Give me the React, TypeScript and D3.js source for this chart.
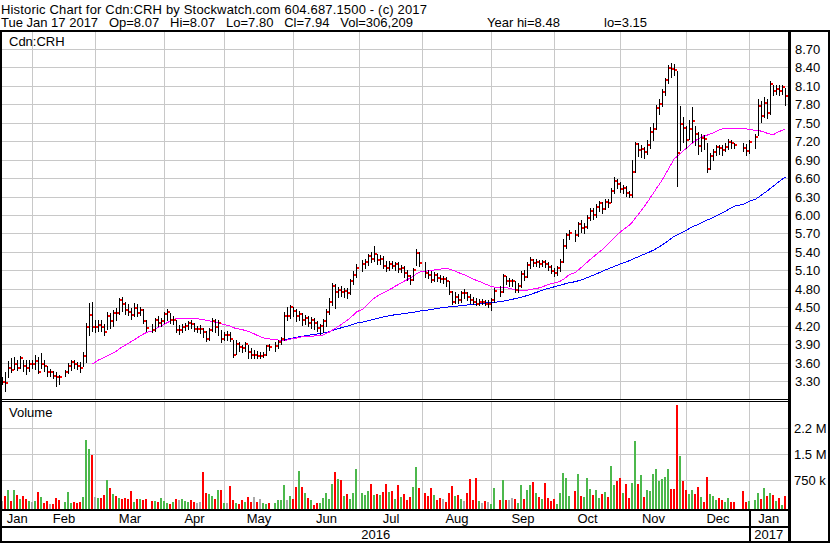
import React, { useMemo } from "react";
import * as d3 from "d3";

// ---------- DATA ----------
const START_DATE = "2016-01-18";
const END_DATE = "2017-01-17";
const HOLIDAYS = [
  "2016-02-15", "2016-03-25", "2016-05-23", "2016-07-01", "2016-08-01",
  "2016-09-05", "2016-10-10", "2016-12-26", "2016-12-27", "2017-01-02",
];

// closes per trading day (grouped by month)
const closeJan16 = [3.30, 3.28, 3.53, 3.49, 3.59, 3.52, 3.68, 3.56, 3.52, 3.59];
const closeFeb = [3.59, 3.64, 3.46, 3.59, 3.56, 3.46, 3.46, 3.39, 3.38, 3.37, 3.45, 3.56, 3.62, 3.59, 3.56, 3.52, 3.71, 4.19, 4.38, 4.19];
const closeMar = [4.19, 4.22, 4.19, 4.10, 4.36, 4.28, 4.42, 4.41, 4.62, 4.57, 4.47, 4.44, 4.38, 4.49, 4.42, 4.47, 4.29, 4.17, 4.14, 4.30, 4.26, 4.28];
const closeApr = [4.40, 4.44, 4.30, 4.31, 4.14, 4.14, 4.19, 4.20, 4.25, 4.24, 4.15, 4.15, 4.15, 4.10, 3.99, 4.14, 4.28, 4.19, 4.25, 3.99, 4.06];
const closeMay = [4.06, 4.00, 3.73, 3.92, 3.87, 3.84, 3.91, 3.78, 3.73, 3.73, 3.72, 3.72, 3.73, 3.88, 3.87, 3.88, 3.95, 4.00, 4.37, 4.37, 4.51];
const closeJun = [4.45, 4.37, 4.40, 4.30, 4.33, 4.25, 4.31, 4.25, 4.17, 4.20, 4.29, 4.44, 4.60, 4.86, 4.75, 4.79, 4.75, 4.78, 4.74, 4.93, 5.04, 5.15];
const closeJul = [5.21, 5.25, 5.34, 5.29, 5.37, 5.28, 5.30, 5.18, 5.14, 5.22, 5.18, 5.21, 5.13, 5.15, 5.06, 5.01, 4.96, 5.12, 5.39, 5.23];
const closeAug = [5.07, 5.03, 4.95, 5.03, 4.99, 4.97, 4.97, 4.94, 4.76, 4.60, 4.68, 4.63, 4.74, 4.74, 4.68, 4.62, 4.60, 4.56, 4.60, 4.60, 4.57, 4.57];
const closeSep = [4.62, 4.78, 4.75, 5.01, 4.93, 4.93, 4.93, 4.79, 4.86, 5.05, 5.00, 5.20, 5.27, 5.23, 5.24, 5.21, 5.24, 5.21, 5.17, 5.10, 5.06];
const closeOct = [5.14, 5.24, 5.51, 5.69, 5.71, 5.69, 5.86, 5.80, 5.82, 5.96, 6.07, 6.01, 6.14, 6.20, 6.10, 6.22, 6.21, 6.40, 6.56, 6.51];
const closeNov = [6.43, 6.45, 6.36, 6.33, 6.71, 7.16, 7.06, 7.08, 7.03, 7.15, 7.35, 7.41, 7.75, 7.81, 8.00, 8.20, 8.40, 8.38, 8.37, 7.01, 7.49, 7.42];
const closeDec = [7.23, 7.40, 7.53, 7.32, 7.13, 7.26, 7.25, 6.75, 6.97, 7.03, 7.12, 7.10, 7.06, 7.12, 7.19, 7.17, 7.15, 7.10, 7.04, 7.19];
const closeJan17 = [7.27, 7.78, 7.62, 7.83, 7.67, 8.14, 8.03, 8.06, 8.03, 8.09, 7.94];

const highJan16 = [3.38, 3.46, 3.63, 3.68, 3.70, 3.66, 3.72, 3.66, 3.66, 3.65];
const highFeb = [3.66, 3.73, 3.70, 3.76, 3.66, 3.55, 3.50, 3.47, 3.45, 3.41, 3.49, 3.60, 3.65, 3.66, 3.62, 3.62, 3.78, 4.25, 4.58, 4.60];
const highMar = [4.30, 4.30, 4.30, 4.24, 4.44, 4.42, 4.46, 4.50, 4.66, 4.68, 4.60, 4.56, 4.50, 4.58, 4.56, 4.52, 4.48, 4.30, 4.24, 4.33, 4.36, 4.33];
const highApr = [4.44, 4.48, 4.42, 4.36, 4.30, 4.22, 4.24, 4.25, 4.29, 4.30, 4.26, 4.20, 4.22, 4.18, 4.12, 4.18, 4.33, 4.32, 4.30, 4.14, 4.10];
const highMay = [4.12, 4.10, 3.98, 3.97, 3.95, 3.90, 3.94, 3.90, 3.84, 3.82, 3.80, 3.79, 3.78, 3.90, 3.92, 3.94, 3.98, 4.03, 4.44, 4.52, 4.54];
const highJun = [4.52, 4.48, 4.45, 4.42, 4.38, 4.36, 4.35, 4.33, 4.28, 4.24, 4.32, 4.48, 4.66, 4.90, 4.88, 4.84, 4.86, 4.82, 4.82, 4.97, 5.10, 5.22];
const highJul = [5.28, 5.30, 5.38, 5.40, 5.50, 5.38, 5.36, 5.34, 5.26, 5.26, 5.26, 5.24, 5.24, 5.20, 5.18, 5.12, 5.04, 5.14, 5.46, 5.40];
const highAug = [5.24, 5.12, 5.10, 5.08, 5.06, 5.04, 5.02, 5.00, 4.94, 4.78, 4.76, 4.72, 4.78, 4.80, 4.76, 4.72, 4.68, 4.66, 4.64, 4.64, 4.63, 4.62];
const highSep = [4.66, 4.82, 4.86, 5.05, 5.02, 4.98, 4.97, 4.94, 4.90, 5.10, 5.12, 5.24, 5.32, 5.30, 5.30, 5.28, 5.28, 5.27, 5.24, 5.20, 5.14];
const highOct = [5.18, 5.30, 5.62, 5.72, 5.76, 5.76, 5.90, 5.92, 5.88, 6.00, 6.12, 6.12, 6.18, 6.24, 6.22, 6.26, 6.26, 6.44, 6.62, 6.60];
const highNov = [6.55, 6.50, 6.48, 6.40, 6.90, 7.20, 7.18, 7.14, 7.12, 7.22, 7.44, 7.50, 7.80, 7.90, 8.06, 8.24, 8.44, 8.48, 8.46, 8.34, 7.78, 7.60];
const highDec = [7.45, 7.55, 7.76, 7.45, 7.35, 7.32, 7.30, 7.18, 7.02, 7.08, 7.15, 7.14, 7.14, 7.18, 7.24, 7.22, 7.18, 7.18, 7.16, 7.22];
const highJan17 = [7.32, 7.90, 7.86, 7.92, 7.90, 8.18, 8.12, 8.12, 8.12, 8.12, 8.07];

const lowJan16 = [3.26, 3.15, 3.38, 3.46, 3.50, 3.49, 3.52, 3.48, 3.43, 3.48];
const lowFeb = [3.52, 3.51, 3.44, 3.53, 3.47, 3.40, 3.39, 3.36, 3.23, 3.26, 3.39, 3.44, 3.49, 3.53, 3.51, 3.45, 3.55, 3.62, 4.06, 4.12];
const lowMar = [4.10, 4.13, 4.12, 4.06, 4.15, 4.18, 4.20, 4.30, 4.40, 4.45, 4.40, 4.38, 4.32, 4.36, 4.36, 4.38, 4.25, 4.12, 4.10, 4.12, 4.20, 4.20];
const lowApr = [4.25, 4.30, 4.25, 4.24, 4.10, 4.08, 4.10, 4.14, 4.16, 4.17, 4.12, 4.10, 4.09, 4.02, 3.96, 3.98, 4.12, 4.10, 4.06, 3.95, 3.97];
const lowMay = [3.98, 3.96, 3.70, 3.75, 3.80, 3.78, 3.80, 3.68, 3.68, 3.68, 3.68, 3.68, 3.70, 3.74, 3.82, 3.80, 3.84, 3.92, 3.98, 4.30, 4.33];
const lowJun = [4.36, 4.28, 4.30, 4.22, 4.24, 4.20, 4.18, 4.16, 4.12, 4.08, 4.10, 4.20, 4.40, 4.55, 4.50, 4.68, 4.70, 4.68, 4.66, 4.72, 4.88, 5.00];
const lowJul = [5.10, 5.14, 5.20, 5.24, 5.26, 5.22, 5.22, 5.14, 5.10, 5.12, 5.14, 5.12, 5.08, 5.08, 5.00, 4.96, 4.88, 4.95, 5.20, 5.18];
const lowAug = [5.00, 4.98, 4.92, 4.94, 4.94, 4.92, 4.90, 4.86, 4.72, 4.56, 4.58, 4.58, 4.60, 4.66, 4.62, 4.58, 4.56, 4.54, 4.55, 4.56, 4.54, 4.52];
const lowSep = [4.46, 4.60, 4.70, 4.76, 4.88, 4.86, 4.86, 4.76, 4.76, 4.84, 4.96, 5.00, 5.14, 5.18, 5.18, 5.16, 5.18, 5.16, 5.12, 5.06, 5.02];
const lowOct = [5.04, 5.10, 5.24, 5.48, 5.62, 5.58, 5.66, 5.74, 5.72, 5.80, 5.92, 5.94, 5.98, 6.08, 6.04, 6.10, 6.14, 6.22, 6.36, 6.44];
const lowNov = [6.38, 6.36, 6.32, 6.30, 6.30, 6.70, 6.96, 6.95, 6.94, 7.00, 7.10, 7.22, 7.40, 7.65, 7.78, 7.96, 8.15, 8.25, 8.28, 6.48, 7.07, 7.20];
const lowDec = [7.10, 7.25, 7.20, 7.15, 7.00, 7.05, 7.08, 6.70, 6.75, 6.90, 6.98, 7.00, 6.98, 7.04, 7.08, 7.10, 7.10, 7.04, 6.98, 7.02];
const lowJan17 = [7.10, 7.30, 7.52, 7.60, 7.58, 7.65, 7.96, 7.98, 7.96, 7.98, 7.80];

// volume in thousands of shares
const volJan16 = [153, 306, 470, 153, 470, 326, 211, 306, 211, 153];
const volFeb = [133, 153, 413, 268, 95, 153, 66, 58, 239, 182, 124, 413, 95, 124, 95, 124, 268, 1913, 1662, 1480];
const volMar = [268, 239, 239, 326, 759, 528, 355, 297, 239, 211, 239, 211, 441, 124, 211, 211, 182, 211, 153, 153, 124, 239];
const volApr = [153, 95, 66, 124, 211, 182, 211, 153, 124, 182, 124, 95, 124, 990, 384, 355, 297, 211, 470, 470, 95];
const volMay = [95, 586, 182, 95, 66, 182, 124, 268, 124, 268, 124, 211, 95, 66, 95, 95, 182, 182, 615, 182, 297];
const volJun = [211, 557, 1018, 557, 384, 239, 182, 38, 95, 95, 239, 384, 211, 643, 990, 788, 759, 297, 355, 211, 384, 1076];
const volJul = [384, 326, 441, 643, 326, 355, 326, 413, 643, 413, 441, 211, 615, 268, 355, 182, 268, 557, 1134, 528];
const volAug = [384, 297, 528, 326, 182, 239, 211, 124, 384, 586, 297, 326, 211, 153, 384, 788, 182, 816, 153, 95, 153, 124];
const volSep = [66, 528, 182, 759, 182, 182, 239, 211, 95, 615, 211, 470, 615, 701, 384, 268, 211, 672, 239, 153, 211];
const volOct = [66, 384, 961, 816, 297, 441, 932, 297, 268, 816, 499, 326, 470, 239, 355, 413, 268, 1163, 615, 739];
const volNov = [816, 384, 643, 239, 672, 1884, 643, 903, 268, 470, 441, 932, 1076, 730, 788, 845, 1076, 499, 499, 2923, 1451, 730];
const volDec = [470, 355, 470, 355, 557, 268, 124, 845, 355, 297, 182, 239, 182, 124, 239, 124, 124, 441, 124, 153];
const volJan17 = [182, 384, 211, 528, 297, 384, 326, 153, 239, 38, 306];

const closes = [...closeJan16, ...closeFeb, ...closeMar, ...closeApr, ...closeMay, ...closeJun, ...closeJul, ...closeAug, ...closeSep, ...closeOct, ...closeNov, ...closeDec, ...closeJan17];
const highs = [...highJan16, ...highFeb, ...highMar, ...highApr, ...highMay, ...highJun, ...highJul, ...highAug, ...highSep, ...highOct, ...highNov, ...highDec, ...highJan17];
const lows = [...lowJan16, ...lowFeb, ...lowMar, ...lowApr, ...lowMay, ...lowJun, ...lowJul, ...lowAug, ...lowSep, ...lowOct, ...lowNov, ...lowDec, ...lowJan17];
const volumes = [...volJan16, ...volFeb, ...volMar, ...volApr, ...volMay, ...volJun, ...volJul, ...volAug, ...volSep, ...volOct, ...volNov, ...volDec, ...volJan17];

const PRICE_TICKS = [8.7, 8.4, 8.1, 7.8, 7.5, 7.2, 6.9, 6.6, 6.3, 6.0, 5.7, 5.4, 5.1, 4.8, 4.5, 4.2, 3.9, 3.6, 3.3];
const VOLUME_TICKS = [750, 1500, 2250];
const VOLUME_TICK_LABELS = ["750 k", "1.5 M", "2.2 M"];
const MONTH_LABELS = ["Jan", "Feb", "Mar", "Apr", "May", "Jun", "Jul", "Aug", "Sep", "Oct", "Nov", "Dec", "Jan"];
const YEAR_LABELS = ["2016", "2017"];
const MA_SHORT = 30;
const MA_LONG = 90;

const HEADER1 = "Historic Chart for Cdn:CRH by Stockwatch.com 604.687.1500 - (c) 2017";
const HEADER2_FIELDS = ["Tue Jan 17 2017", "Op=8.07", "Hi=8.07", "Lo=7.80", "Cl=7.94", "Vol=306,209"];
const HEADER2_YEAR = ["Year hi=8.48", "lo=3.15"];
const SYMBOL = "Cdn:CRH";

// ---------- LAYOUT ----------
const W = 830;
const H = 543;
const PLOT_L = 2;
const PLOT_R = 788;
const FONT = "'Liberation Sans', Arial, Helvetica, sans-serif";
const GRID = "#c8c8c8";
const GREEN = "#4cb84c";
const RED = "#ff0000";
const GREY = "#aaaaaa";
const YEAR_FIELD_X = [487, 604];

function movingAverage(arr: number[], n: number) {
  return arr.map((_, i) => (i < n - 1 ? null : (d3.mean(arr.slice(i - n + 1, i + 1)) as number)));
}

export default function App() {
  const m = useMemo(() => {
    const fmt = d3.utcFormat("%Y-%m-%d");
    const parse = d3.utcParse("%Y-%m-%d");
    const start = parse(START_DATE)!;
    const end = d3.utcDay.offset(parse(END_DATE)!, 1);
    const slots = d3.utcDay.range(start, end).filter((d) => d.getUTCDay() % 6 !== 0);
    const hol = new Set(HOLIDAYS);
    const tradingSlots: number[] = [];
    slots.forEach((d, i) => {
      if (!hol.has(fmt(d))) tradingSlots.push(i);
    });
    const x = d3.scaleLinear().domain([0, slots.length - 1]).range([2.5, 2.5 + 3 * (slots.length - 1)]);
    const y = d3.scaleLinear().domain([3.3, 8.7]).range([381.7, 49.3]);
    const vy = d3.scaleLinear().domain([0, 2250]).range([506.3, 428.3]);

    // month boundaries: last weekday slot on/before the 1st of each month
    const months = d3.utcMonth.range(d3.utcMonth.ceil(start), end);
    const bounds = months.map((mo) => {
      let idx = 0;
      slots.forEach((d, i) => {
        if (d <= mo) idx = i;
      });
      return { x: x(idx), date: mo };
    });
    const edges = [PLOT_L, ...bounds.map((b) => b.x), PLOT_R];
    const yearBoundary = bounds.find((b) => b.date.getUTCMonth() === 0)!.x;

    const ma1 = movingAverage(closes, MA_SHORT);
    const ma2 = movingAverage(closes, MA_LONG);
    const line = d3
      .line<[number, number | null]>()
      .defined((d) => d[1] != null)
      .x((d) => x(tradingSlots[d[0]]))
      .y((d) => y(d[1] as number));
    const ma1Path = line(ma1.map((v, i) => [i, v]));
    const ma2Path = line(ma2.map((v, i) => [i, v]));

    return { x, y, vy, tradingSlots, bounds, edges, yearBoundary, ma1Path, ma2Path };
  }, []);

  const { x, y, vy, tradingSlots, bounds, edges, yearBoundary, ma1Path, ma2Path } = m;
  const gy = (v: number) => Math.floor(v) + 0.5;

  return (
    <svg
      width={W}
      height={H}
      style={{ position: "fixed", left: 0, top: 0, background: "#fff" }}
      fontFamily={FONT}
    >
      <rect x={0} y={0} width={W} height={H} fill="#fff" />
      {/* header */}
      <text x={1} y={13.5} fontSize={13} style={{ whiteSpace: "pre" }} fill="#000" textLength={426} lengthAdjust="spacing">{HEADER1}</text>
      <text x={1} y={27} fontSize={13} style={{ whiteSpace: "pre" }} fill="#000">{HEADER2_FIELDS.join("   ")}</text>
      {HEADER2_YEAR.map((t, i) => (
        <text key={"hy" + i} x={YEAR_FIELD_X[i]} y={27} fontSize={13} fill="#000">{t}</text>
      ))}

      {/* horizontal grid: price */}
      {PRICE_TICKS.map((t) => (
        <line key={"pg" + t} x1={PLOT_L} x2={PLOT_R} y1={gy(y(t))} y2={gy(y(t))} stroke={GRID} strokeWidth={1} shapeRendering="crispEdges" />
      ))}
      {/* horizontal grid: volume */}
      {VOLUME_TICKS.map((t) => (
        <line key={"vg" + t} x1={PLOT_L} x2={PLOT_R} y1={gy(vy(t))} y2={gy(vy(t))} stroke={GRID} strokeWidth={1} shapeRendering="crispEdges" />
      ))}
      {/* vertical month grid */}
      {bounds.map((b, i) => (
        <g key={"mg" + i}>
          <line x1={b.x} x2={b.x} y1={32} y2={400} stroke={GRID} strokeWidth={1} shapeRendering="crispEdges" />
          <line x1={b.x} x2={b.x} y1={402} y2={509} stroke={GRID} strokeWidth={1} shapeRendering="crispEdges" />
        </g>
      ))}

      {/* moving averages */}
      <path d={ma2Path || ""} fill="none" stroke="#0000ff" strokeWidth={1} shapeRendering="crispEdges" />
      <path d={ma1Path || ""} fill="none" stroke="#ff00ff" strokeWidth={1} shapeRendering="crispEdges" />

      {/* price bars */}
      {closes.map((c, j) => {
        const cx = x(tradingSlots[j]);
        const yh = Math.round(y(highs[j]));
        const yl = Math.round(y(lows[j]));
        const yc = Math.round(y(c));
        return (
          <g key={"b" + j} shapeRendering="crispEdges">
            <rect x={cx - 0.5} y={yh} width={1} height={Math.max(1, yl - yh + 1)} fill="#000" />
            <rect x={cx + 0.5} y={yc - 1} width={2} height={2} fill={RED} />
          </g>
        );
      })}

      {/* volume bars */}
      {volumes.map((v, j) => {
        const cx = x(tradingSlots[j]);
        const top = Math.round(vy(v));
        const col = j === 0 || closes[j] === closes[j - 1] ? GREY : closes[j] > closes[j - 1] ? GREEN : RED;
        return <rect key={"v" + j} x={cx - 1.5} y={top} width={2} height={509 - top} fill={col} shapeRendering="crispEdges" />;
      })}

      {/* panel labels */}
      <text x={9} y={46} fontSize={13} fill="#000">{SYMBOL}</text>
      <text x={9} y={417} fontSize={13} fill="#000">Volume</text>

      {/* right axis labels */}
      {PRICE_TICKS.map((t) => (
        <text key={"pl" + t} x={795} y={gy(y(t)) + 4} fontSize={13} fill="#000">{t.toFixed(2)}</text>
      ))}
      {VOLUME_TICKS.map((t, i) => (
        <text key={"vl" + t} x={794} y={gy(vy(t)) + 4.5} fontSize={13} fill="#000">{VOLUME_TICK_LABELS[i]}</text>
      ))}

      {/* month labels */}
      {MONTH_LABELS.map((lab, i) => (
        <text key={"ml" + i} x={(edges[i] + edges[i + 1]) / 2} y={523} fontSize={13} textAnchor="middle" fill="#000">{lab}</text>
      ))}
      {/* year labels */}
      <text x={(PLOT_L + yearBoundary) / 2} y={539} fontSize={13} textAnchor="middle" fill="#000">{YEAR_LABELS[0]}</text>
      <text x={(yearBoundary + PLOT_R) / 2} y={539} fontSize={13} textAnchor="middle" fill="#000">{YEAR_LABELS[1]}</text>

      {/* frame */}
      <g shapeRendering="crispEdges" fill="#000">
        <rect x={0} y={30} width={W} height={2} />
        <rect x={0} y={399} width={PLOT_R} height={1} />
        <rect x={0} y={401} width={PLOT_R} height={1} />
        <rect x={0} y={509} width={PLOT_R} height={2} />
        <rect x={0} y={526} width={PLOT_R} height={2} />
        <rect x={0} y={541} width={W} height={2} />
        <rect x={0} y={30} width={2} height={H - 30} />
        <rect x={PLOT_R} y={30} width={3} height={H - 30} />
        <rect x={W - 2} y={30} width={2} height={H - 30} />
        <rect x={yearBoundary - 0.5} y={509} width={2} height={33} />
      </g>
    </svg>
  );
}
